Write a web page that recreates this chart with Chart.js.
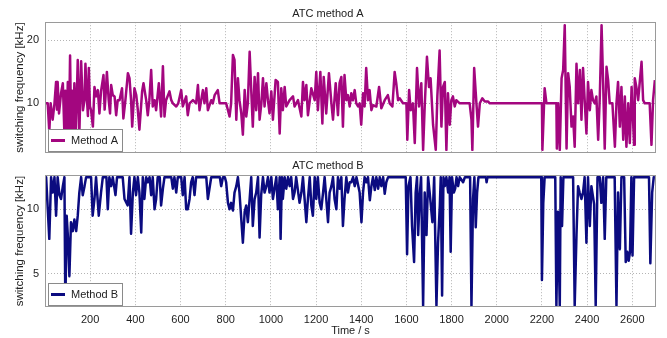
<!DOCTYPE html>
<html>
<head>
<meta charset="utf-8">
<script src="https://cdn.jsdelivr.net/npm/chart.js@4.4.1/dist/chart.umd.min.js"></script>
<style>
  html, body { margin: 0; padding: 0; background: #fff; }
  #cntr { position: relative; width: 667px; height: 338px; }
  .grafica { position: absolute; left: 0; width: 667px; }
</style>
</head>
<body>
<div id="cntr">
  <div class="grafica" style="top:0;height:157px"><canvas id="chartA"></canvas></div>
  <div class="grafica" style="top:157px;height:181px"><canvas id="chartB"></canvas></div>
</div>
<script>
// Ejes
const xTicks = [200, 400, 600, 800, 1000, 1200, 1400, 1600, 1800, 2000, 2200, 2400, 2600];
const yTicksA = [10, 20];
const yTicksB = [5, 10];

// Method A: tiempo [s] y frecuencia [kHz]
const timeA = [
  0, 12, 19, 25, 34, 42, 49, 53, 56, 62,
  71, 79, 86, 90, 95, 101, 106, 111, 116, 120,
  125, 130, 136, 145, 152, 156, 160, 168, 175, 179,
  185, 190, 194, 199, 204, 212, 219, 226, 234, 241,
  248, 259, 264, 268, 274, 282, 288, 293, 300, 308,
  315, 322, 330, 341, 347, 356, 367, 374, 381, 386,
  396, 404, 411, 418, 430, 436, 448, 455, 462, 470,
  477, 485, 492, 504, 514, 522, 529, 536, 551, 559,
  566, 581, 590, 603, 610, 625, 632, 640, 655, 669,
  677, 684, 699, 706, 714, 721, 736, 743, 751, 765,
  773, 802, 810, 817, 824, 832, 839, 847, 854, 861,
  869, 876, 884, 891, 898, 906, 913, 920, 928, 935,
  943, 950, 958, 965, 972, 980, 987, 994, 1002, 1009,
  1021, 1031, 1039, 1046, 1053, 1061, 1068, 1083, 1098, 1105,
  1120, 1135, 1142, 1149, 1157, 1164, 1179, 1194, 1201, 1208,
  1219, 1228, 1234, 1245, 1257, 1268, 1275, 1287, 1297, 1304,
  1312, 1319, 1326, 1334, 1341, 1349, 1356, 1363, 1371, 1378,
  1386, 1393, 1400, 1408, 1415, 1422, 1430, 1437, 1445, 1452,
  1467, 1479, 1489, 1504, 1518, 1526, 1538, 1548, 1555, 1563,
  1570, 1585, 1600, 1604, 1612, 1619, 1629, 1637, 1647, 1656,
  1666, 1674, 1681, 1691, 1700, 1707, 1718, 1730, 1737, 1747,
  1755, 1762, 1770, 1777, 1784, 1792, 1799, 1806, 1814, 1821,
  1836, 1851, 1866, 1880, 1888, 1892, 1900, 1910, 1917, 1925,
  1936, 1947, 1961, 1969, 2200, 2202, 2212, 2220, 2264, 2266,
  2272, 2279, 2287, 2294, 2301, 2309, 2316, 2323, 2331, 2338,
  2345, 2353, 2360, 2368, 2375, 2382, 2390, 2397, 2404, 2412,
  2419, 2426, 2434, 2441, 2449, 2456, 2464, 2471, 2478, 2486,
  2493, 2500, 2512, 2523, 2530, 2537, 2545, 2552, 2560, 2567,
  2574, 2582, 2589, 2597, 2608, 2611, 2618, 2626, 2641, 2648,
  2655, 2670, 2677, 2685, 2692, 2700
];
const freqA = [
  10, 10, 5.5, 10, 7.4, 10, 13.4, 9, 13.4, 8.4,
  11.6, 13.2, 5, 12, 4.8, 13.4, 5, 17.6, 4.5, 12,
  5, 13.2, 4.8, 16.9, 5, 11, 16.7, 8.9, 10.5, 16.3,
  11.1, 8, 15.6, 9.5, 8.9, 6.3, 12.6, 11.1, 12.1, 8.4,
  11.9, 14.5, 9, 11.1, 15, 10.5, 8.4, 12.9, 11.3, 11.1,
  8.1, 10.5, 10.5, 12.4, 7.6, 10.5, 14.8, 14, 10.5, 6.3,
  12.4, 11.3, 8.9, 5.8, 11.9, 13.2, 10.5, 8.1, 10.5, 15.3,
  9.5, 10.5, 8.9, 13.2, 7.9, 15.9, 7.9, 10.5, 11.9, 10.5,
  10, 9.5, 10, 12.1, 9.5, 11.1, 8.1, 10, 10.5, 10,
  12.9, 8.9, 12.1, 10, 12.4, 8.9, 10.5, 10, 11.3, 12.1,
  10, 10, 8.9, 7.9, 10, 17.7, 16.9, 7.4, 14, 10.5,
  8.4, 5, 12.1, 7.9, 10, 18.2, 12.1, 6.3, 14.2, 8.9,
  14.8, 7.4, 10, 14, 9.5, 13.2, 10.5, 8.4, 11.9, 7.4,
  13.7, 13.4, 5.2, 12.4, 8.9, 12.6, 9.5, 10.5, 11.1, 9.5,
  10.5, 7.9, 13.4, 10.5, 12.9, 8.1, 12.4, 10.5, 15, 8.9,
  15, 6.8, 14.2, 8.4, 14.8, 10, 7.4, 13.2, 8.1, 13.2,
  14.2, 6.3, 14.5, 10.5, 11.3, 9.5, 11.6, 10.5, 12.1, 10,
  9.5, 10, 6.6, 11.6, 9.5, 15.6, 10.5, 12.1, 8.9, 9.7,
  9.5, 12.6, 9.2, 10.5, 11.3, 10, 9.5, 15, 13.2, 10.5,
  10.8, 10, 10, 4.2, 12.1, 8.9, 10, 3.7, 15.6, 9.5,
  13.2, 2.6, 9.5, 17.4, 12.6, 14, 6.6, 2.6, 11.1, 18.4,
  6.3, 12.6, 13.4, 2.6, 11.6, 6.6, 10.5, 11.1, 9.5, 10.5,
  10, 10, 10, 10, 7.4, 2.6, 15.6, 10, 6.3, 10,
  10.8, 10.3, 10.3, 10, 10, 2.6, 12.4, 10, 10, 2.8,
  10, 2.6, 14, 15.3, 22.4, 2.8, 14.8, 12.6, 6.3, 7.9,
  3.1, 16.3, 10, 15.3, 7.4, 15.6, 10, 5.2, 13.4, 8.9,
  12.1, 10.5, 10, 11.1, 4.2, 10.8, 22.4, 13.2, 2.8, 15.8,
  13.7, 10, 10, 3.1, 10, 13.4, 6.3, 12.6, 4.2, 11.1,
  3.1, 10, 3.7, 12.6, 3.4, 14, 12.6, 10.5, 16.6, 10.5,
  10, 10, 10, 3.4, 10.5, 13.7
];

// Method B: tiempo [s] y frecuencia [kHz]
const timeB = [
  0, 5, 19, 27, 34, 42, 49, 56, 64, 71,
  79, 86, 90, 96, 102, 108, 115, 123, 130, 138,
  145, 152, 160, 167, 175, 182, 204, 211, 219, 226,
  238, 248, 256, 272, 278, 285, 293, 300, 312, 319,
  344, 352, 366, 374, 381, 389, 396, 403, 411, 418,
  426, 433, 440, 448, 455, 463, 470, 477, 485, 492,
  499, 508, 514, 522, 529, 559, 566, 573, 581, 588,
  603, 610, 618, 625, 632, 640, 647, 654, 662, 669,
  714, 721, 728, 736, 774, 780, 788, 796, 802, 810,
  817, 824, 832, 839, 847, 854, 861, 876, 884, 891,
  898, 906, 913, 920, 928, 935, 943, 950, 957, 965,
  972, 980, 987, 994, 1002, 1009, 1016, 1024, 1031, 1039,
  1043, 1049, 1053, 1061, 1068, 1076, 1083, 1090, 1098, 1105,
  1112, 1127, 1135, 1142, 1157, 1164, 1172, 1179, 1186, 1194,
  1201, 1208, 1216, 1223, 1231, 1238, 1253, 1260, 1268, 1275,
  1282, 1290, 1297, 1304, 1312, 1319, 1326, 1334, 1341, 1349,
  1356, 1364, 1371, 1379, 1393, 1401, 1408, 1415, 1423, 1430,
  1438, 1445, 1452, 1460, 1467, 1475, 1482, 1489, 1497, 1504,
  1511, 1519, 1597, 1603, 1609, 1618, 1625, 1634, 1641, 1647,
  1652, 1659, 1665, 1674, 1681, 1689, 1696, 1703, 1715, 1723,
  1733, 1740, 1748, 1752, 1758, 1764, 1770, 1777, 1785, 1791,
  1796, 1802, 1810, 1816, 1822, 1829, 1836, 1851, 1859, 1882,
  1888, 1895, 1901, 1907, 1913, 1919, 1952, 1955, 1959, 2197,
  2200, 2206, 2212, 2259, 2264, 2271, 2279, 2283, 2289, 2295,
  2338, 2345, 2353, 2360, 2367, 2375, 2382, 2389, 2397, 2404,
  2412, 2419, 2431, 2438, 2446, 2456, 2463, 2471, 2478, 2485,
  2522, 2530, 2537, 2545, 2552, 2564, 2571, 2578, 2584, 2590,
  2596, 2601, 2608, 2674, 2680, 2688, 2695, 2700
];
const freqB = [
  12.5, 12.5, 7.7, 12.5, 11.3, 12.5, 9.5, 12.5, 11.1, 10.8,
  11.8, 12.5, 2.4, 9.5, 7.7, 4.8, 9, 8.3, 9.2, 8.3,
  9.5, 11.3, 12.5, 11.1, 11.8, 12.5, 12.5, 9.5, 10.8, 12.5,
  9.5, 11.3, 12.5, 12.5, 10, 12.5, 11.8, 12.5, 11.1, 12.5,
  12.5, 10.8, 10.3, 12.5, 8.1, 11.3, 12.5, 11.1, 12.5, 11.3,
  8.2, 12.5, 10.8, 12.5, 12.1, 12.5, 11.1, 12.5, 10, 10.8,
  12.5, 12.5, 10.3, 11.6, 12.5, 12.5, 11.6, 12.5, 11.3, 12.5,
  12.5, 11.1, 12.5, 10, 10, 10.8, 12.1, 12.5, 11.1, 12.5,
  12.5, 10.8, 11.6, 12.5, 12.5, 11.8, 12.5, 12.5, 12.1, 10.5,
  10, 10.5, 9.9, 11.3, 11.8, 12.5, 11.3, 7.4, 9.8, 10.3,
  9, 10.8, 12.5, 8.7, 10.8, 11.3, 12.5, 7.8, 11.1, 12.5,
  11.3, 11.8, 12.5, 11.3, 12.5, 10.8, 11.6, 12.5, 10, 12.5,
  7.7, 12.5, 10.8, 12.5, 11.6, 12.5, 11.8, 12.5, 10.8, 11.3,
  12.5, 10.5, 11.3, 12.5, 9, 10.8, 12.5, 10.3, 9.5, 12.5,
  10.8, 12.5, 10.5, 10, 11.3, 12.5, 9, 11.3, 11.8, 12.5,
  10.8, 10, 12.5, 11.6, 12.5, 8.7, 10.8, 12.5, 11.3, 12.1,
  12.1, 12.5, 11.8, 12.5, 11.3, 9, 11.3, 12.5, 12.1, 12.5,
  10.7, 11.8, 12.5, 11.5, 12.5, 11.6, 12.5, 11.8, 12.5, 11.2,
  12.1, 12.5, 12.5, 6.5, 11.8, 12.5, 8.7, 5.9, 11.3, 12.5,
  8, 11.1, 12.5, 2.5, 11.3, 8, 12.5, 11.3, 9, 12.5,
  2.5, 7.4, 10.3, 12.5, 3.3, 12.5, 11.8, 12.5, 11.3, 12.5,
  6.7, 12.5, 11.3, 11.6, 12.5, 11.8, 12.5, 12.1, 12.5, 12.5,
  2.5, 10.8, 12.5, 8.6, 11.3, 12.5, 12.5, 12.1, 12.5, 12.5,
  4.5, 10.5, 12.5, 12.5, 2.5, 9.8, 2.5, 12.5, 8.7, 12.5,
  12.5, 2.5, 8, 11.8, 11.3, 10.8, 11.3, 12.5, 7.4, 12.5,
  8.7, 11.8, 10.4, 2.5, 12.5, 12.5, 10.5, 12.5, 7.7, 12.5,
  12.5, 2.5, 11.3, 6.9, 12.5, 12.5, 5.9, 6.7, 6, 6.7,
  12.5, 6.4, 12.5, 12.5, 5.8, 11.3, 12.5, 12.5
];

Chart.defaults.font.family = "'Liberation Sans', Arial, sans-serif";
Chart.defaults.font.size = 11;
Chart.defaults.color = '#222';

// Marco gris alrededor del area de la grafica
const marco = {
  id: 'marco',
  afterDatasetsDraw(chart) {
    const { ctx, chartArea: a } = chart;
    ctx.save();
    ctx.strokeStyle = '#9a9a9a';
    ctx.lineWidth = 1;
    ctx.strokeRect(Math.round(a.left) + 0.5, Math.round(a.top) + 0.5,
      Math.round(a.right - a.left) - 1, Math.round(a.bottom - a.top) - 1);
    ctx.restore();
  }
};

// Leyenda dentro de la grafica, abajo a la izquierda
const leyenda = {
  id: 'leyenda',
  afterDraw(chart) {
    const { ctx, chartArea: a } = chart;
    const ds = chart.data.datasets[0];
    const x = Math.round(a.left) + 3, y = Math.round(a.bottom) - 24, w = 74, h = 22;
    ctx.save();
    ctx.fillStyle = '#fff';
    ctx.fillRect(x, y, w, h);
    ctx.strokeStyle = '#8a8a8a';
    ctx.lineWidth = 1;
    ctx.strokeRect(x + 0.5, y + 0.5, w, h);
    ctx.strokeStyle = ds.borderColor;
    ctx.lineWidth = 3;
    ctx.beginPath();
    ctx.moveTo(x + 3, y + h / 2 + 0.5);
    ctx.lineTo(x + 17, y + h / 2 + 0.5);
    ctx.stroke();
    ctx.fillStyle = '#222';
    ctx.font = "11px 'Liberation Sans', Arial, sans-serif";
    ctx.textBaseline = 'middle';
    ctx.fillText(ds.label, x + 23, y + h / 2 + 1);
    ctx.restore();
  }
};

function puntos(tiempos, valores) {
  return tiempos.map((t, i) => ({ x: t, y: valores[i] }));
}

// Quitamos el relleno que Chart.js reserva para las etiquetas extremas
function sin_relleno(axis) {
  axis.paddingTop = 0;
  axis.paddingBottom = 0;
  axis.paddingLeft = 0;
  axis.paddingRight = 0;
}

function crear_grafica(id, opciones) {
  const rejilla = { color: '#b4b4b4', lineWidth: 1, drawTicks: false };
  const borde = { display: false, dash: [1, 2] };
  new Chart(document.getElementById(id), {
    type: 'line',
    data: {
      datasets: [{
        label: opciones.label,
        data: opciones.data,
        borderColor: opciones.color,
        borderWidth: 2.5,
        borderJoinStyle: 'round',
        pointRadius: 0,
        tension: 0,
        fill: false
      }]
    },
    options: {
      responsive: true,
      maintainAspectRatio: false,
      animation: false,
      layout: { padding: { left: 0, right: 11, top: 0, bottom: 0 } },
      plugins: {
        legend: { display: false },
        tooltip: { enabled: false },
        title: {
          display: true,
          text: opciones.title,
          color: '#222',
          font: { size: 11, weight: 'normal' },
          padding: opciones.titlePadding
        }
      },
      scales: {
        x: {
          type: 'linear',
          min: 0,
          max: 2705,
          afterBuildTicks: (axis) => { axis.ticks = xTicks.map(v => ({ value: v })); },
          afterFit: (axis) => { axis.height = opciones.xHeight; sin_relleno(axis); },
          ticks: {
            display: opciones.xLabels,
            padding: 6,
            color: '#222',
            maxRotation: 0,
            callback: (v) => String(v)
          },
          grid: rejilla,
          border: borde,
          title: {
            display: opciones.xLabels,
            text: 'Time / s',
            color: '#222',
            font: { size: 11 },
            padding: { top: 0, bottom: 0 }
          }
        },
        y: {
          min: opciones.yMin,
          max: opciones.yMax,
          afterBuildTicks: (axis) => { axis.ticks = opciones.yTicks.map(v => ({ value: v })); },
          afterFit: (axis) => { axis.width = 45; sin_relleno(axis); },
          ticks: { padding: 6, color: '#222', callback: (v) => String(v) },
          grid: rejilla,
          border: borde,
          title: {
            display: true,
            text: 'switching frequency [kHz]',
            color: '#222',
            font: { size: 11.5 },
            padding: { top: 13, bottom: 0 }
          }
        }
      }
    },
    plugins: [marco, leyenda]
  });
}

crear_grafica('chartA', {
  label: 'Method A',
  title: 'ATC method A',
  titlePadding: { top: 7, bottom: 2 },
  data: puntos(timeA, freqA),
  color: '#a3067f',
  yMin: 2.1,
  yMax: 22.9,
  yTicks: yTicksA,
  xLabels: false,
  xHeight: 4
});

crear_grafica('chartB', {
  label: 'Method B',
  title: 'ATC method B',
  titlePadding: { top: 2, bottom: 3 },
  data: puntos(timeB, freqB),
  color: '#0b0b80',
  yMin: 2.4,
  yMax: 12.65,
  yTicks: yTicksB,
  xLabels: true,
  xHeight: 31
});
</script>
</body>
</html>
